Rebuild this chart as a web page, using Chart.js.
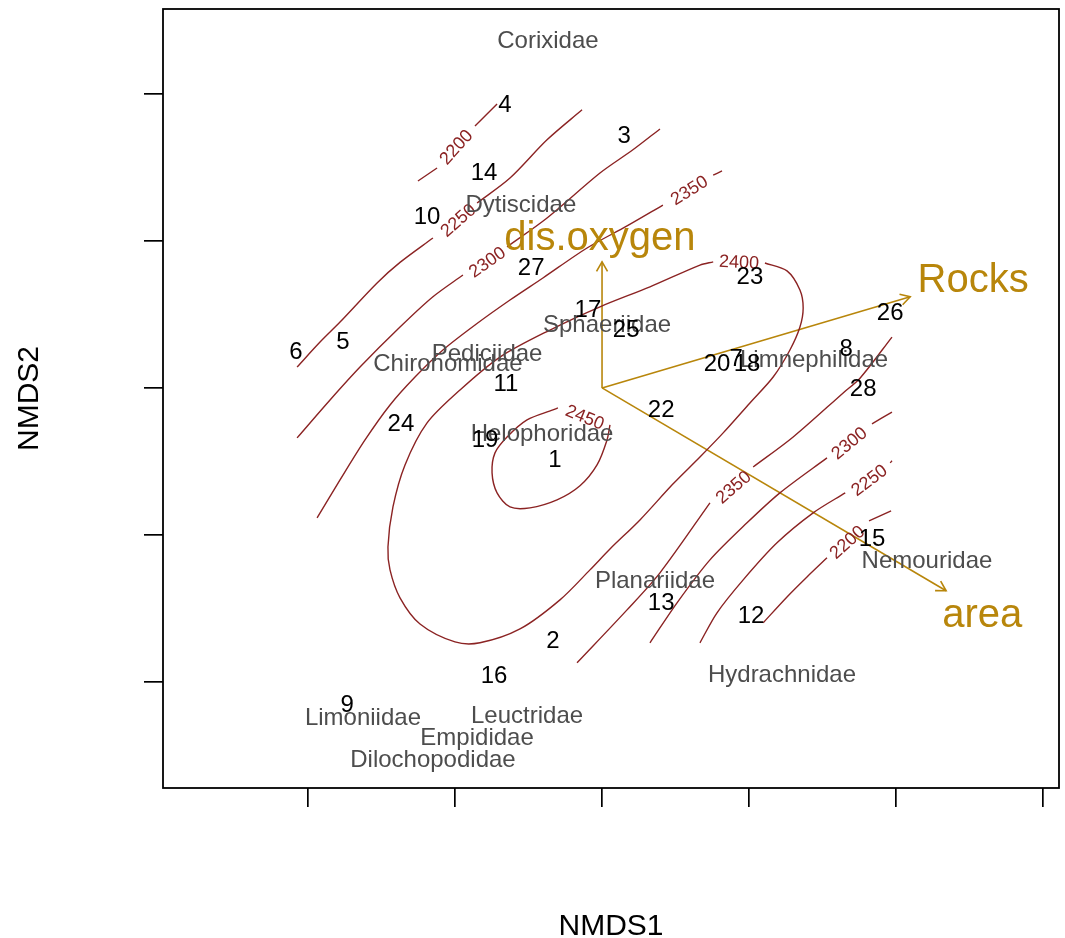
<!DOCTYPE html>
<html>
<head>
<meta charset="utf-8">
<title>NMDS ordination</title>
<script src="https://cdn.jsdelivr.net/npm/chart.js@4.4.1/dist/chart.umd.min.js"></script>
<style>
  html, body { margin: 0; padding: 0; background: #fff; }
  #wrap { width: 1065px; height: 938px; }
</style>
</head>
<body>
<div id="wrap"><canvas id="nmds" width="1065" height="938"></canvas></div>
<script>
// Axis ticks (unlabelled in the original)
const xTicks = [-1, -0.5, 0, 0.5, 1, 1.5];
const yTicks = [-1, -0.5, 0, 0.5, 1];

// Sites
const siteIds = ['4', '3', '14', '10', '27', '17', '25', '23', '26', '6', '5', '11', '20', '7', '18', '8', '28', '22', '24', '19', '1', '15', '13', '12', '2', '16', '9'];
const siteX = [-0.330, 0.075, -0.401, -0.595, -0.241, -0.048, 0.082, 0.503, 0.980, -1.041, -0.881, -0.327, 0.391, 0.456, 0.493, 0.830, 0.888, 0.201, -0.684, -0.398, -0.160, 0.918, 0.201, 0.507, -0.167, -0.367, -0.867];
const siteY = [0.966, 0.861, 0.735, 0.585, 0.412, 0.272, 0.201, 0.381, 0.259, 0.129, 0.163, 0.020, 0.085, 0.102, 0.088, 0.139, 0.003, -0.071, -0.116, -0.173, -0.241, -0.507, -0.728, -0.769, -0.854, -0.976, -1.075];

// Species (families)
const sppNames = ['Corixidae', 'Dytiscidae', 'Sphaeriidae', 'Pediciidae', 'Chironomidae', 'Limnephilidae', 'Helophoridae', 'Nemouridae', 'Planariidae', 'Hydrachnidae', 'Limoniidae', 'Leuctridae', 'Empididae', 'Dilochopodidae'];
const sppX = [-0.184, -0.276, 0.017, -0.391, -0.524, 0.721, -0.204, 1.105, 0.180, 0.612, -0.813, -0.255, -0.425, -0.575];
const sppY = [1.187, 0.626, 0.218, 0.119, 0.088, 0.099, -0.153, -0.582, -0.650, -0.973, -1.119, -1.112, -1.187, -1.262];

// Fitted environmental vectors
const envNames = ['dis.oxygen', 'Rocks', 'area'];
const envX = [0, 1.048, 1.170];
const envY = [0.429, 0.310, -0.690];
const envLabX = [-0.007, 1.262, 1.293];
const envLabY = [0.517, 0.374, -0.765];

// Contour segments (ordisurf), broken where the level labels sit
const lev2200 = [
  [[-0.626, 0.704], [-0.561, 0.748]],
  [[-0.432, 0.891], [-0.357, 0.966]],
  [[0.548, -0.799], [0.629, -0.711], [0.697, -0.643], [0.765, -0.578]],
  [[0.908, -0.452], [0.983, -0.418]]
];
const lev2250 = [
  [[-1.037, 0.071], [-0.959, 0.156], [-0.891, 0.224], [-0.765, 0.357], [-0.687, 0.427], [-0.575, 0.510]],
  [[-0.425, 0.629], [-0.313, 0.714], [-0.187, 0.844], [-0.068, 0.946]],
  [[0.333, -0.867], [0.391, -0.765], [0.480, -0.653], [0.595, -0.527], [0.718, -0.425], [0.827, -0.357]],
  [[0.980, -0.255], [0.986, -0.248]]
];
const lev2300 = [
  [[-1.037, -0.170], [-0.925, -0.041], [-0.823, 0.071], [-0.687, 0.207], [-0.575, 0.310], [-0.473, 0.384]],
  [[-0.323, 0.480], [-0.187, 0.578], [-0.007, 0.731], [0.105, 0.810], [0.197, 0.881]],
  [[0.163, -0.867], [0.255, -0.731], [0.367, -0.585], [0.493, -0.459], [0.605, -0.357], [0.765, -0.238]],
  [[0.918, -0.122], [0.986, -0.082]]
];
const lev2350 = [
  [[-0.969, -0.442], [-0.891, -0.313], [-0.806, -0.177], [-0.721, -0.058], [-0.636, 0.037], [-0.541, 0.129], [-0.432, 0.214], [-0.313, 0.299], [-0.201, 0.374], [-0.051, 0.476], [0.085, 0.551], [0.207, 0.622]],
  [[0.378, 0.724], [0.408, 0.738]],
  [[-0.085, -0.935], [0.085, -0.755], [0.197, -0.629], [0.367, -0.391]],
  [[0.514, -0.269], [0.650, -0.167], [0.820, -0.017], [0.878, 0.034], [0.986, 0.173]]
];
const lev2400 = [
  [[0.554, 0.425], [0.629, 0.398], [0.673, 0.333], [0.684, 0.272], [0.673, 0.207], [0.639, 0.129], [0.582, 0.037], [0.503, -0.051], [0.412, -0.153], [0.333, -0.235], [0.241, -0.327], [0.129, -0.449], [0.027, -0.548], [-0.041, -0.619], [-0.143, -0.721], [-0.279, -0.820], [-0.415, -0.867], [-0.500, -0.864], [-0.619, -0.803], [-0.687, -0.714], [-0.721, -0.619], [-0.728, -0.541], [-0.711, -0.405], [-0.670, -0.262], [-0.595, -0.119], [-0.483, -0.007], [-0.347, 0.105], [-0.177, 0.197], [-0.007, 0.276], [0.163, 0.344], [0.333, 0.418], [0.378, 0.429]]
];
const lev2450 = [
  [[0.027, -0.126], [0.017, -0.177], [-0.017, -0.262], [-0.075, -0.333], [-0.153, -0.381], [-0.245, -0.408], [-0.313, -0.405], [-0.357, -0.357], [-0.374, -0.289], [-0.364, -0.221], [-0.323, -0.167], [-0.255, -0.109], [-0.167, -0.075], [-0.150, -0.068]]
];

// Contour level labels
const contourLabLevel = [2200, 2250, 2300, 2350, 2400, 2450, 2350, 2300, 2250, 2200];
const contourLabX = [-0.497, -0.490, -0.391, 0.296, 0.466, -0.058, 0.446, 0.840, 0.908, 0.833];
const contourLabY = [0.820, 0.571, 0.429, 0.673, 0.429, -0.099, -0.337, -0.187, -0.313, -0.524];
const contourLabAngle = [-48, -41, -35, -32, 3, 22, -41, -39, -37, -42];

const FONT = '"Liberation Sans", Arial, Helvetica, sans-serif';
const CONTOUR_COL = '#8b2323';
const ENV_COL = '#b8860b';
const SPP_COL = '#4d4d4d';

function toPoints(xs, ys) {
  return xs.map((x, i) => ({ x: x, y: ys[i] }));
}

const datasets = [];
[lev2200, lev2250, lev2300, lev2350, lev2400, lev2450].forEach(function (segs) {
  segs.forEach(function (seg) {
    datasets.push({
      data: seg.map(p => ({ x: p[0], y: p[1] })),
      showLine: true,
      borderColor: CONTOUR_COL,
      borderWidth: 1.4,
      pointRadius: 0,
      tension: 0.3
    });
  });
});
envNames.forEach(function (n, i) {
  datasets.push({
    label: 'env:' + n,
    data: [{ x: 0, y: 0 }, { x: envX[i], y: envY[i] }],
    showLine: true,
    borderColor: ENV_COL,
    borderWidth: 1.6,
    pointRadius: 0
  });
});
datasets.push({ label: 'species', data: toPoints(sppX, sppY), pointRadius: 0 });
datasets.push({ label: 'sites', data: toPoints(siteX, siteY), pointRadius: 0 });

// centred text, nudged so the cap height sits on the point like R's text()
function centreText(ctx, str, x, y, size) {
  ctx.fillText(str, x, y + size * 0.08);
}

// Text, arrow heads and frame
const ordiLayer = {
  id: 'ordiLayer',
  afterDatasetsDraw(chart) {
    const ctx = chart.ctx;
    const a = chart.chartArea;
    const xs = chart.scales.x, ys = chart.scales.y;
    ctx.save();
    ctx.textAlign = 'center';
    ctx.textBaseline = 'middle';

    // contour labels
    ctx.font = '18px ' + FONT;
    ctx.fillStyle = CONTOUR_COL;
    contourLabLevel.forEach(function (lv, i) {
      ctx.save();
      ctx.translate(xs.getPixelForValue(contourLabX[i]), ys.getPixelForValue(contourLabY[i]));
      ctx.rotate(contourLabAngle[i] * Math.PI / 180);
      ctx.fillText(String(lv), 0, 1);
      ctx.restore();
    });

    // arrow heads
    ctx.strokeStyle = ENV_COL;
    ctx.lineWidth = 1.6;
    chart.data.datasets.forEach(function (ds, di) {
      if (!ds.label || ds.label.indexOf('env:') !== 0) return;
      const pts = chart.getDatasetMeta(di).data;
      const p0 = pts[0], p1 = pts[1];
      const ang = Math.atan2(p1.y - p0.y, p1.x - p0.x);
      const len = 11;
      ctx.beginPath();
      ctx.moveTo(p1.x - len * Math.cos(ang - Math.PI / 6), p1.y - len * Math.sin(ang - Math.PI / 6));
      ctx.lineTo(p1.x, p1.y);
      ctx.lineTo(p1.x - len * Math.cos(ang + Math.PI / 6), p1.y - len * Math.sin(ang + Math.PI / 6));
      ctx.stroke();
    });

    // env labels
    ctx.font = '40px ' + FONT;
    ctx.fillStyle = ENV_COL;
    envNames.forEach(function (n, i) {
      centreText(ctx, n, xs.getPixelForValue(envLabX[i]), ys.getPixelForValue(envLabY[i]), 40);
    });

    // species and site labels, placed on the library's points
    chart.data.datasets.forEach(function (ds, di) {
      const pts = chart.getDatasetMeta(di).data;
      if (ds.label === 'species') {
        ctx.font = '24px ' + FONT;
        ctx.fillStyle = SPP_COL;
        pts.forEach((p, i) => centreText(ctx, sppNames[i], p.x, p.y, 24));
      } else if (ds.label === 'sites') {
        ctx.font = '24px ' + FONT;
        ctx.fillStyle = '#000';
        pts.forEach((p, i) => centreText(ctx, siteIds[i], p.x, p.y, 24));
      }
    });

    // frame
    ctx.strokeStyle = '#000';
    ctx.lineWidth = 1.8;
    ctx.strokeRect(a.left, a.top, a.right - a.left, a.bottom - a.top);
    ctx.restore();
  }
};

new Chart(document.getElementById('nmds'), {
  type: 'scatter',
  data: { datasets: datasets },
  options: {
    responsive: false,
    animation: false,
    devicePixelRatio: 1,
    layout: { padding: { top: 9, right: 6, left: 0, bottom: 0 } },
    plugins: { legend: { display: false }, tooltip: { enabled: false } },
    scales: {
      x: {
        type: 'linear',
        min: -1.493,
        max: 1.554,
        afterBuildTicks: s => { s.ticks = xTicks.map(v => ({ value: v })); },
        afterFit: s => { s.height = 150; },
        ticks: { display: false },
        border: { display: false },
        grid: { drawOnChartArea: false, drawTicks: true, tickLength: 19, color: '#000', lineWidth: 1.7 },
        title: { display: true, text: 'NMDS1', color: '#000', font: { family: FONT, size: 30, lineHeight: 1 }, padding: { top: 0, bottom: -4 } }
      },
      y: {
        type: 'linear',
        min: -1.361,
        max: 1.289,
        afterBuildTicks: s => { s.ticks = yTicks.map(v => ({ value: v })); },
        afterFit: s => { s.width = 163; },
        ticks: { display: false },
        border: { display: false },
        grid: { drawOnChartArea: false, drawTicks: true, tickLength: 19, color: '#000', lineWidth: 1.7 },
        title: { display: true, text: 'NMDS2', color: '#000', font: { family: FONT, size: 30, lineHeight: 1 }, padding: { top: 15, bottom: 0 } }
      }
    }
  },
  plugins: [ordiLayer]
});
</script>
</body>
</html>
